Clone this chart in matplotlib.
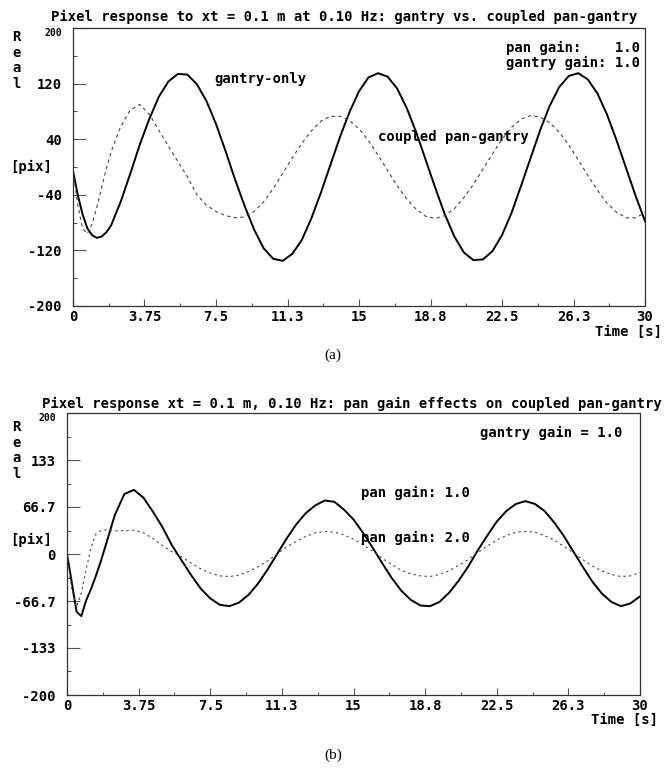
import matplotlib
matplotlib.use("Agg")
import matplotlib.pyplot as plt
import numpy as np

# time grid [s]: finer at the start where the transient is
t = np.concatenate([np.arange(0, 2, 0.25), np.arange(2, 30.01, 0.5)])

# (a) gantry vs. coupled pan-gantry
gantry_only = [-5, -40, -68, -88, -98, -102, -100, -94,
               -84, -50, -10, 32, 69, 101, 123, 134, 133, 119, 95, 62, 23, -18,
               -56, -90, -117, -132, -135, -125, -105, -74, -37, 3, 43, 79, 109,
               129, 135, 130, 113, 85, 50, 10, -30, -68, -100, -123, -134, -133,
               -121, -98, -66, -27, 13, 53, 88, 115, 131, 135, 126, 106, 76, 39,
               -1, -41, -78]
coupled = [-5, -55, -88, -96, -82, -58, -30, -2,
           22, 58, 82, 90, 76, 53, 30, 8, -14, -40, -55, -64, -70, -73,
           -72, -64, -50, -31, -9, 13, 34, 52, 66, 73, 73, 67, 55,
           38, 17, -5, -27, -46, -61, -71, -74, -70, -60, -44, -25, -3,
           19, 40, 57, 69, 74, 72, 64, 50, 32, 10, -12, -33, -52, -65,
           -73, -73, -66]

# (b) pan gain effects
pan_gain_1 = [0, -40, -82, -88, -66, -50, -32, -12,
              10, 55, 85, 91, 80, 60, 38, 12, -9, -30, -49, -63, -72, -74,
              -69, -58, -42, -22, 0, 22, 42, 58, 69, 76, 74, 63, 49,
              30, 9, -13, -34, -52, -65, -73, -74, -68, -55, -38, -18, 5,
              26, 46, 61, 71, 75, 71, 61, 45, 26, 4, -18, -39, -56, -68,
              -74, -70, -60]
pan_gain_2 = [0, -50, -75, -55, -22, 8, 28, 33,
              34, 33, 33, 34, 30, 22, 12, 3, -4, -13, -21, -27, -31, -32,
              -30, -25, -18, -10, 0, 10, 18, 25, 30, 32, 31, 27, 21,
              13, 4, -6, -15, -23, -28, -31, -32, -29, -24, -16, -8, 2,
              11, 20, 26, 31, 32, 31, 26, 20, 11, 2, -8, -17, -24, -29,
              -32, -31, -26]

xticks = [0, 3.75, 7.5, 11.25, 15, 18.75, 22.5, 26.25, 30]
xlabels = ['0', '3.75', '7.5', '11.3', '15', '18.8', '22.5', '26.3', '30']
yticks_a = [-200, -120, -40, 40, 120, 200]
ylabels_a = ['-200', '-120', '-40', '40', '120', '200']
yticks_b = [-200, -133.3, -66.7, 0, 66.7, 133.3, 200]
ylabels_b = ['-200', '-133', '-66.7', '0', '66.7', '133', '200']

mono = dict(family='DejaVu Sans Mono', weight='bold', size=10)

fig = plt.figure(figsize=(6.66, 7.7), dpi=100)
ax_a = fig.add_axes([0.1096, 0.6026, 0.8589, 0.3610])
ax_b = fig.add_axes([0.1006, 0.0974, 0.8604, 0.3662])


def style(ax, yt, yl):
    ax.set_xlim(0, 30)
    ax.set_ylim(-200, 200)
    ax.set_xticks(xticks)
    ax.set_xticklabels(xlabels, **mono)
    ax.set_xticks([x + 1.875 for x in xticks[:-1]], minor=True)
    ax.set_yticks(yt)
    ax.set_yticklabels(yl, **mono)
    # top label sits squeezed under the title in the original
    top = ax.get_yticklabels()[-1]
    top.set_fontsize(7)
    top.set_verticalalignment('top')
    ax.set_yticks([(a + b) / 2 for a, b in zip(yt[:-1], yt[1:])], minor=True)
    ax.tick_params(which='both', direction='in', color='#555', width=0.8)
    ax.tick_params(axis='y', which='major', length=9, pad=8)
    ax.tick_params(axis='y', which='minor', length=3)
    ax.tick_params(axis='x', which='major', length=5, pad=3)
    ax.tick_params(axis='x', which='minor', length=2)
    for s in ax.spines.values():
        s.set_linestyle((0, (1, 1)))
        s.set_color('#333')
        s.set_linewidth(0.9)


ax_a.plot(t, gantry_only, color='black', lw=1.4)
ax_a.plot(t, coupled, color='#444', lw=0.8, ls=(0, (3, 3)))
style(ax_a, yticks_a, ylabels_a)
ax_a.text(7.4, 127, 'gantry-only', va='center', **mono)
ax_a.text(16.0, 43, 'coupled pan-gantry', va='center', **mono)
ax_a.text(22.7, 171, 'pan gain:    1.0', va='center', **mono)
ax_a.text(22.7, 150, 'gantry gain: 1.0', va='center', **mono)

ax_b.plot(t, pan_gain_1, color='black', lw=1.4)
ax_b.plot(t, pan_gain_2, color='#444', lw=0.8, ls=(0, (2, 3)))
style(ax_b, yticks_b, ylabels_b)
ax_b.text(21.6, 172, 'gantry gain = 1.0', va='center', **mono)
ax_b.text(15.4, 86, 'pan gain: 1.0', va='center', **mono)
ax_b.text(15.4, 23, 'pan gain: 2.0', va='center', **mono)

# titles, axis words and captions
fig.text(344 / 666, 1 - 17 / 770,
         'Pixel response to xt = 0.1 m at 0.10 Hz: gantry vs. coupled pan-gantry',
         ha='center', va='center', **mono)
fig.text(352 / 666, 1 - 404 / 770,
         'Pixel response xt = 0.1 m, 0.10 Hz: pan gain effects on coupled pan-gantry',
         ha='center', va='center', **mono)
for top, pix in [(30, 167), (420, 540)]:
    fig.text(12 / 666, 1 - top / 770, 'R\ne\na\nl', ha='left', va='top',
             linespacing=1.15, **mono)
    fig.text(10 / 666, 1 - pix / 770, '[pix]', ha='left', va='center', **mono)
fig.text(662 / 666, 1 - 332 / 770, 'Time [s]', ha='right', va='center', **mono)
fig.text(658 / 666, 1 - 720 / 770, 'Time [s]', ha='right', va='center', **mono)
fig.text(0.5, 1 - 355 / 770, '(a)', ha='center', va='center',
         family='Liberation Serif', size=11)
fig.text(0.5, 1 - 755 / 770, '(b)', ha='center', va='center',
         family='Liberation Serif', size=11)

fig.savefig('out.png', dpi=100)
